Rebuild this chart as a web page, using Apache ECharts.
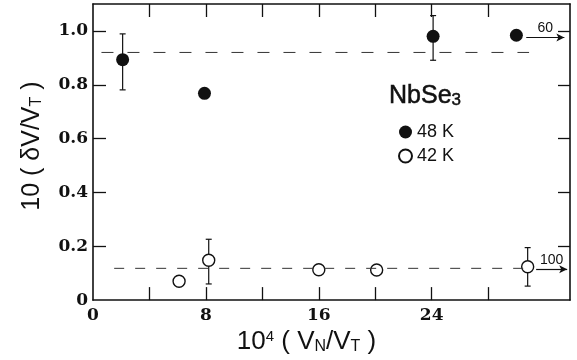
<!DOCTYPE html>
<html>
<head>
<meta charset="utf-8">
<script src="https://cdn.jsdelivr.net/npm/echarts@6/dist/echarts.min.js"></script>
<style>
html,body{margin:0;padding:0;background:#fff;}
#c{width:577px;height:360px;}
</style>
</head>
<body>
<div id="c"></div>
<script>
// ---- data ----
const xTicks = [4, 8, 12, 16, 20, 24, 28];
const xTickLabels = [0, 8, 16, 24];
const yTicks = [0.2, 0.4, 0.6, 0.8, 1.0];
const yTickLabels = [0, 0.2, 0.4, 0.6, 0.8, 1.0];

const x48 = [2.1, 7.9, 24.1, 30.0];
const y48 = [0.893, 0.768, 0.980, 0.984];
const err48 = [[2.1, 0.781, 0.989], [24.1, 0.891, 1.057]];

const x42 = [6.1, 8.2, 16.0, 20.1, 30.8];
const y42 = [0.070, 0.148, 0.113, 0.112, 0.124];
const err42 = [[8.2, 0.060, 0.226], [30.8, 0.052, 0.195]];

const ref48 = [[0.6, 0.920], [30.9, 0.920]];
const ref42 = [[1.5, 0.118], [30.5, 0.118]];

const arrow48 = [[30.7, 0.976], [33.4, 0.976]];
const arrow42 = [[31.4, 0.115], [33.6, 0.115]];
const arrowLabels = ['60', '100'];

const ink = '#111';
const sans = 'Liberation Sans, Arial, sans-serif';
const pts48 = x48.map((x, i) => [x, y48[i]]);
const pts42 = x42.map((x, i) => [x, y42[i]]);

function errRender(params, api) {
  const x = api.value(0), lo = api.value(1), hi = api.value(2);
  const p1 = api.coord([x, lo]), p2 = api.coord([x, hi]);
  const w = 3;
  const st = { stroke: ink, lineWidth: 1.2 };
  return { type: 'group', children: [
    { type: 'line', shape: { x1: p1[0], y1: p1[1], x2: p2[0], y2: p2[1] }, style: st },
    { type: 'line', shape: { x1: p1[0]-w, y1: p1[1], x2: p1[0]+w, y2: p1[1] }, style: st },
    { type: 'line', shape: { x1: p2[0]-w, y1: p2[1], x2: p2[0]+w, y2: p2[1] }, style: st }
  ]};
}

const tickFont = { fontFamily: 'DejaVu Serif', fontWeight: 'bold', fontSize: 17, color: ink };
const axisLine = { show: true, onZero: false, lineStyle: { color: ink, width: 1.6 } };

const chart = echarts.init(document.getElementById('c'), null, { renderer: 'canvas' });
chart.setOption({
  animation: false,
  backgroundColor: '#fff',
  grid: { left: 93, right: 7, top: 4, bottom: 57 },
  title: {
    text: '{a|NbSe}{b|3}',
    left: 384, top: 79,
    textStyle: {
      rich: {
        a: { fontFamily: sans, fontSize: 25, fontWeight: 'normal', color: ink, textBorderColor: ink, textBorderWidth: 0.5 },
        b: { fontFamily: sans, fontSize: 17, fontWeight: 'normal', color: ink, verticalAlign: 'bottom', padding: [8, 0, 0, 0], textBorderColor: ink, textBorderWidth: 0.5 }
      }
    }
  },
  legend: {
    data: ['48 K', '42 K'],
    orient: 'vertical',
    left: 393, top: 118,
    itemWidth: 13, itemHeight: 13, itemGap: 6,
    textStyle: { fontFamily: sans, fontSize: 18, color: ink }
  },
  xAxis: [
    {
      type: 'value', min: 0, max: 33.8, position: 'bottom',
      axisLine: axisLine, splitLine: { show: false },
      axisTick: { show: true, inside: true, length: 13, customValues: xTicks, lineStyle: { color: ink, width: 1.3 } },
      axisLabel: Object.assign({ customValues: xTickLabels, margin: 7 }, tickFont),
      name: '{n|10}{s|4}{n| ( V}{b|N}{n|/V}{b|T}{n| )}',
      nameLocation: 'middle', nameGap: 20,
      nameTextStyle: {
        padding: [0, 50, 0, 0],
        rich: {
          n: { fontFamily: sans, fontSize: 26, color: ink },
          s: { fontFamily: sans, fontSize: 15, color: ink, verticalAlign: 'top' },
          b: { fontFamily: sans, fontSize: 16, color: ink, verticalAlign: 'bottom' }
        }
      }
    },
    {
      type: 'value', min: 0, max: 33.8, position: 'top',
      axisLine: axisLine, splitLine: { show: false },
      axisTick: { show: true, inside: true, length: 13, customValues: xTicks, lineStyle: { color: ink, width: 1.3 } },
      axisLabel: { show: false }
    }
  ],
  yAxis: [
    {
      type: 'value', min: 0, max: 1.1, position: 'left',
      axisLine: axisLine, splitLine: { show: false },
      axisTick: { show: true, inside: true, length: 13, customValues: yTicks, lineStyle: { color: ink, width: 1.3 } },
      axisLabel: Object.assign({ customValues: yTickLabels, margin: 5,
        formatter: v => v === 0 ? '0' : v.toFixed(1) }, tickFont),
      name: '{n|10 ( δV/V}{b|T}{n| )}',
      nameLocation: 'middle', nameGap: 48, nameRotate: 90,
      nameTextStyle: {
        padding: [0, 0, 0, 12],
        rich: {
          n: { fontFamily: sans, fontSize: 25, color: ink },
          b: { fontFamily: sans, fontSize: 16, color: ink, verticalAlign: 'bottom' }
        }
      }
    },
    {
      type: 'value', min: 0, max: 1.1, position: 'right',
      axisLine: axisLine, splitLine: { show: false },
      axisTick: { show: true, inside: true, length: 12, customValues: yTicks, lineStyle: { color: ink, width: 1.3 } },
      axisLabel: { show: false }
    }
  ],
  series: [
    { type: 'line', data: ref48, symbol: 'none', silent: true,
      lineStyle: { color: '#333', width: 1, type: [12, 14] } },
    { type: 'line', data: ref42, symbol: 'none', silent: true,
      lineStyle: { color: '#333', width: 1, type: [10, 11] } },
    { type: 'custom', renderItem: errRender, data: err48, silent: true },
    { type: 'custom', renderItem: errRender, data: err42, silent: true },
    { name: '48 K', type: 'scatter', data: pts48, symbol: 'circle', symbolSize: 13,
      itemStyle: { color: ink, borderColor: ink, borderWidth: 0, opacity: 1 },
      markLine: {
        silent: true, symbol: ['none', 'arrow'], symbolSize: [6, 8],
        lineStyle: { color: ink, width: 1.2, type: 'solid' },
        label: { show: true, position: 'insideMiddleTop', formatter: arrowLabels[0],
          fontFamily: sans, fontSize: 14, color: ink, distance: 2 },
        data: [[{ coord: arrow48[0] }, { coord: arrow48[1] }]]
      } },
    { name: '42 K', type: 'scatter', data: pts42, symbol: 'circle', symbolSize: 12,
      itemStyle: { color: '#fff', borderColor: ink, borderWidth: 1.4, opacity: 1 },
      markLine: {
        silent: true, symbol: ['none', 'arrow'], symbolSize: [6, 8],
        lineStyle: { color: ink, width: 1.2, type: 'solid' },
        label: { show: true, position: 'insideMiddleTop', formatter: arrowLabels[1],
          fontFamily: sans, fontSize: 14, color: ink, distance: 2 },
        data: [[{ coord: arrow42[0] }, { coord: arrow42[1] }]]
      } }
  ]
});
</script>
</body>
</html>
